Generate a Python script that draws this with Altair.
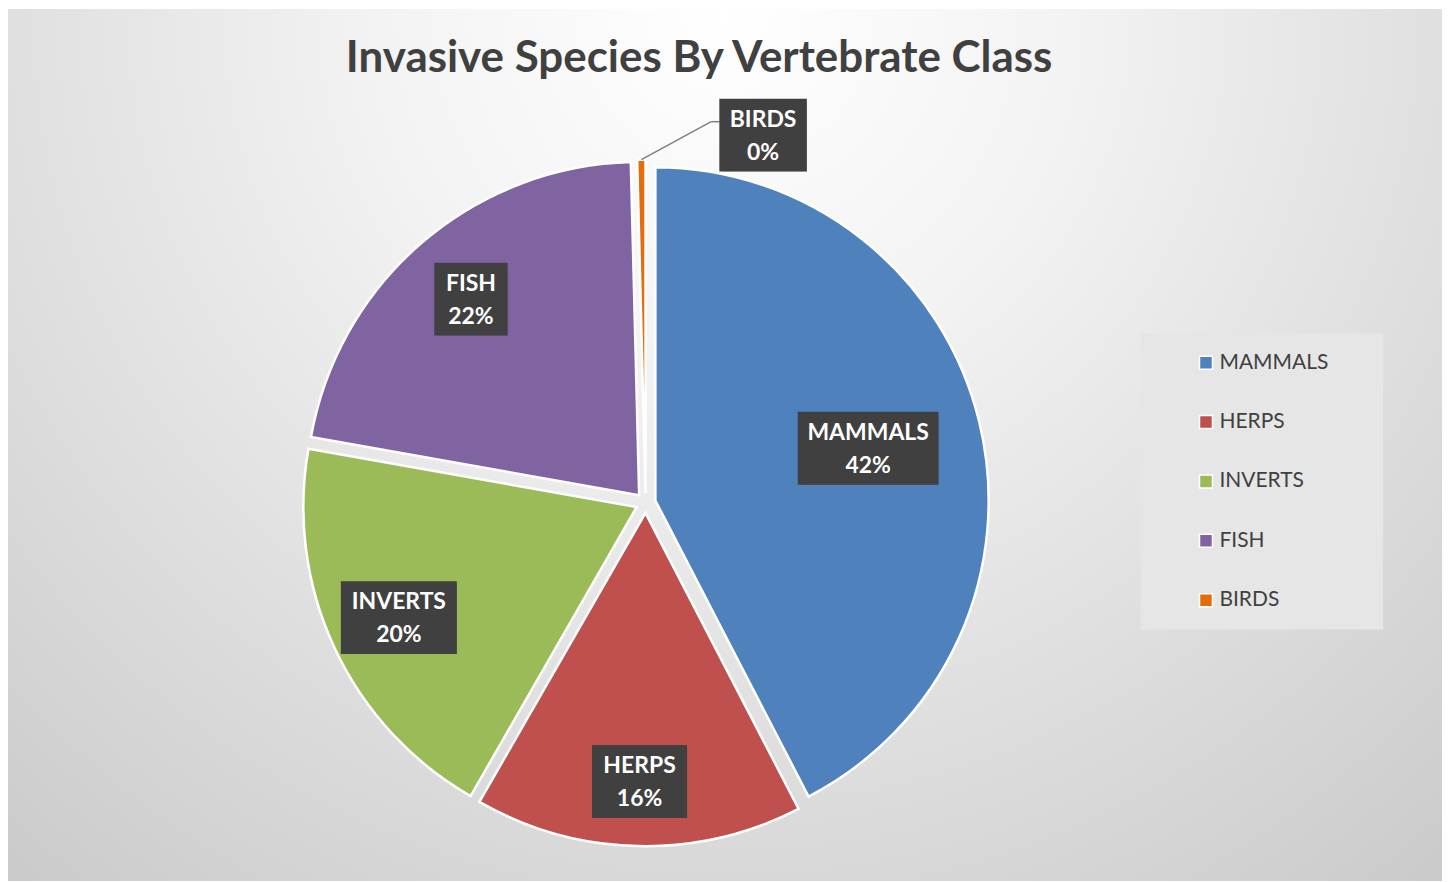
import altair as alt
import pandas as pd

# ---- data ----
categories = ["MAMMALS", "HERPS", "INVERTS", "FISH", "BIRDS"]
values = [42.4, 15.9, 19.5, 21.8, 0.4]
colors = ["#4f81bd", "#c0504d", "#9bbb59", "#8064a2", "#e46c0a"]
title_text = "Invasive Species By Vertebrate Class"

# ---- layout constants ----
W, H = 1437, 874          # whole drawing area (view)
CX, CY = 639, 495         # pie centre inside the view
R = 334                   # pie radius
EXPLODE = 10              # slice explosion distance
FS = 23                   # data label font size

df = pd.DataFrame({"category": categories, "value": values,
                   "idx": list(range(len(categories)))})

xs = alt.Scale(domain=[-CX, W - CX])
ys = alt.Scale(domain=[H - CY, -CY])

base = (
    alt.Chart(df)
    .transform_joinaggregate(total="sum(value)")
    .transform_window(cum="sum(value)", sort=[alt.SortField("idx")], frame=[None, 0])
    .transform_calculate(frac="datum.value / datum.total")
    .transform_calculate(mid="(datum.cum - datum.value / 2) / datum.total * 2 * PI")
    .transform_calculate(ex=f"{EXPLODE} * sin(datum.mid)")
    .transform_calculate(ey=f"-{EXPLODE} * cos(datum.mid)")
    .transform_calculate(small="datum.frac < 0.02")
    .transform_calculate(ox=f"datum.ex + {R} * sin(datum.mid)")
    .transform_calculate(oy=f"datum.ey - {R} * cos(datum.mid)")
    .transform_calculate(lr="300 - 190 * datum.frac")
    .transform_calculate(lx="datum.small ? datum.ox + 122 : datum.ex + datum.lr * sin(datum.mid)")
    .transform_calculate(ly="datum.small ? datum.oy - 24 : datum.ey - datum.lr * cos(datum.mid)")
    .transform_calculate(pct="format(datum.frac, '.0%')")
    .transform_calculate(nM="length(split(datum.category, 'M')) - 1")
    .transform_calculate(nI="length(split(datum.category, 'I')) - 1")
    .transform_calculate(nameW=f"{FS} * (0.62 * length(datum.category) + 0.25 * datum.nM - 0.33 * datum.nI)")
    .transform_calculate(pctW=f"{FS} * (0.58 * (length(datum.pct) - 1) + 0.9)")
    .transform_calculate(bw="max(datum.nameW, datum.pctW) + 24")
    .transform_calculate(bx1="datum.lx - datum.bw / 2")
    .transform_calculate(bx2="datum.lx + datum.bw / 2")
    .transform_calculate(by1="datum.ly - 37")
    .transform_calculate(by2="datum.ly + 36")
    .transform_calculate(ex2="datum.ox + 70")
    .transform_calculate(ey2="datum.oy - 38")
)

gradient = alt.RadialGradient(
    gradient="radial", x1=0.5, y1=0.2, r1=0, x2=0.5, y2=0.2, r2=0.8,
    stops=[
        alt.GradientStop(offset=0, color="#ffffff"),
        alt.GradientStop(offset=0.3, color="#f3f3f3"),
        alt.GradientStop(offset=1, color="#c9c9c9"),
    ],
)

bg = alt.Chart(pd.DataFrame({"bg": [0]})).mark_rect(color=gradient).encode(
    x=alt.value(0), x2=alt.value(W), y=alt.value(0), y2=alt.value(H))

legend = alt.Legend(
    title="MM", titleOrient="right", titleOpacity=0, titleFontSize=19,
    titlePadding=4,
    orient="none", legendX=1135, legendY=325,
    fillColor="#e6e6e6", padding=19,
    symbolType="square", symbolSize=169, symbolStrokeColor="white",
    symbolStrokeWidth=1.5, symbolOffset=36, symbolOpacity=1,
    labelOffset=3, labelFont="Lato", labelFontSize=21, labelColor="#404040",
    rowPadding=37.5,
)

arcs = base.mark_arc(outerRadius=R, stroke="white", strokeWidth=2.5).encode(
    theta=alt.Theta("value:Q", stack=True),
    color=alt.Color("category:N", scale=alt.Scale(domain=categories, range=colors),
                    legend=legend, sort=categories),
    order=alt.Order("idx:Q"),
    x=alt.X("ex:Q", scale=xs, axis=None),
    y=alt.Y("ey:Q", scale=ys, axis=None),
)

small = base.transform_filter("datum.small")
lead1 = small.mark_rule(color="#7f7f7f", strokeWidth=1.5).encode(
    x=alt.X("ox:Q", scale=xs, axis=None), y=alt.Y("oy:Q", scale=ys, axis=None),
    x2="ex2:Q", y2="ey2:Q")
lead2 = small.mark_rule(color="#7f7f7f", strokeWidth=1.5).encode(
    x=alt.X("ex2:Q", scale=xs, axis=None), y=alt.Y("ey2:Q", scale=ys, axis=None),
    x2="bx1:Q")

shadow = base.mark_rect(color="black", opacity=0.22, xOffset=4, yOffset=4).encode(
    x=alt.X("bx1:Q", scale=xs, axis=None), x2="bx2:Q",
    y=alt.Y("by1:Q", scale=ys, axis=None), y2="by2:Q")
box = base.mark_rect(color="#404040").encode(
    x=alt.X("bx1:Q", scale=xs, axis=None), x2="bx2:Q",
    y=alt.Y("by1:Q", scale=ys, axis=None), y2="by2:Q")

name_txt = base.mark_text(font="Lato", fontWeight="bold", fontSize=FS, color="white",
                          align="center", baseline="middle", dy=-16).encode(
    x=alt.X("lx:Q", scale=xs, axis=None), y=alt.Y("ly:Q", scale=ys, axis=None),
    text="category:N")
pct_txt = base.mark_text(font="Lato", fontWeight="bold", fontSize=FS, color="white",
                         align="center", baseline="middle", dy=17).encode(
    x=alt.X("lx:Q", scale=xs, axis=None), y=alt.Y("ly:Q", scale=ys, axis=None),
    text="pct:N")

chart = (
    alt.layer(bg, arcs, lead1, lead2, shadow, box, name_txt, pct_txt)
    .properties(
        width=W, height=H,
        title=alt.TitleParams(text=title_text, font="Lato", fontSize=44,
                              fontWeight="bold", color="#404040", anchor="middle",
                              dx=-26, dy=43, offset=-64, baseline="alphabetic"),
        autosize=alt.AutoSizeParams(type="none"),
        padding=0,
    )
    .configure_view(stroke=None)
)

chart.save("out.html", embed_options={"renderer": "svg", "actions": False})
